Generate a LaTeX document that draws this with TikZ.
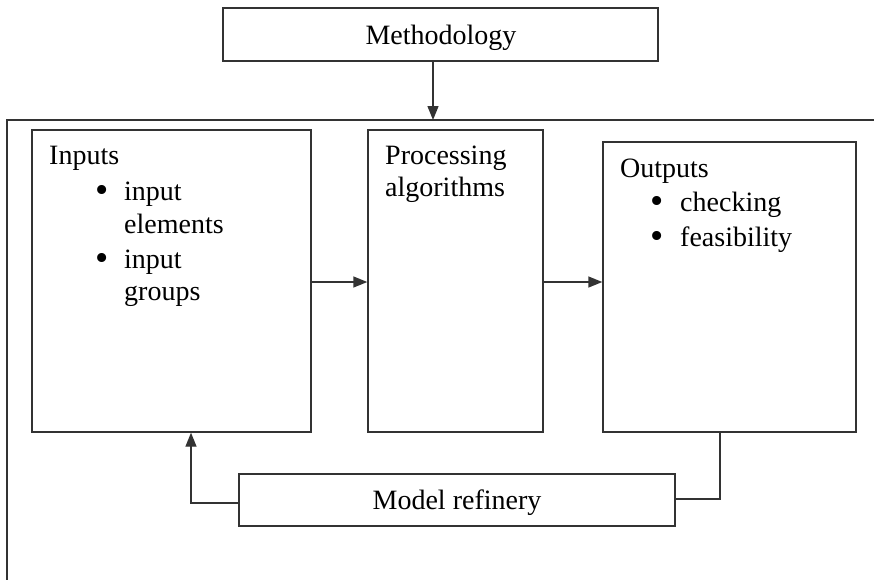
\documentclass[tikz,border=0pt]{standalone}
\usepackage{fontspec}
\setmainfont{Liberation Serif}
\usetikzlibrary{arrows.meta}
\newcommand{\bigdot}{\smash{\raisebox{-2.5pt}{\scalebox{1.35}{\textbullet}}}}
\begin{document}
\begin{tikzpicture}[x=1pt,y=-1pt,
  ln/.style={line width=1.4pt,draw=black!80},
  boxnode/.style={ln,rectangle,inner sep=0pt},
  txt/.style={anchor=base west,inner sep=0pt,font=\fontsize{28}{33}\selectfont},
  ctxt/.style={inner sep=0pt,font=\fontsize{28}{33}\selectfont},
  bul/.style={txt,text height=9pt,text depth=0pt},
  arr/.style={ln,-{Triangle[length=14pt,width=11pt]}}]
\useasboundingbox (0,0) rectangle (874,579);
% methodology
\node[boxnode,minimum width=435pt,minimum height=53pt] (meth) at (440.5,34.5) {};
\node[ctxt,anchor=base] (methT) at (441,44) {Methodology};
% outer frame
\coordinate (ftop) at (433,120);
\coordinate (fright) at (890,120);
\coordinate (fcorner) at (7,120);
\coordinate (fbottom) at (7,600);
\draw[ln] (fright) -- (fcorner) -- (fbottom);
\draw[arr] (meth.south -| ftop) -- (ftop);
% inputs
\node[boxnode,minimum width=279pt,minimum height=302pt] (inp) at (171.5,281) {};
\node[txt] (inpT) at (49,164) {Inputs};
\node[bul] (b1) at (95,200) {\bigdot};
\node[txt] (i1) at (124,200) {input};
\node[txt] (i2) at (124,233) {elements};
\node[bul] (b2) at (95,268) {\bigdot};
\node[txt] (i3) at (124,268) {input};
\node[txt] (i4) at (124,300) {groups};
% processing
\node[boxnode,minimum width=175pt,minimum height=302pt] (proc) at (455.5,281) {};
\node[txt] (p1) at (385,164) {Processing};
\node[txt] (p2) at (385,196) {algorithms};
% outputs
\node[boxnode,minimum width=253pt,minimum height=290pt] (outp) at (729.5,287) {};
\node[txt] (o0) at (620,177) {Outputs};
\node[bul] (b3) at (650,211) {\bigdot};
\node[txt] (o1) at (680,211) {checking};
\node[bul] (b4) at (650,246) {\bigdot};
\node[txt] (o2) at (680,246) {feasibility};
% model refinery
\node[boxnode,minimum width=436pt,minimum height=52pt] (model) at (457,500) {};
\node[ctxt,anchor=base] (modelT) at (457,509) {Model refinery};
% connectors
\coordinate (ay) at (0,282);
\draw[arr] (inp.east |- ay) -- (proc.west |- ay);
\draw[arr] (proc.east |- ay) -- (outp.west |- ay);
\coordinate (lup) at (191,503);
\coordinate (rup) at (720,499);
\draw[arr] (model.west |- lup) -- (lup) -- (inp.south -| lup);
\draw[ln] (model.east |- rup) -- (rup) -- (outp.south -| rup);
\end{tikzpicture}
\end{document}
